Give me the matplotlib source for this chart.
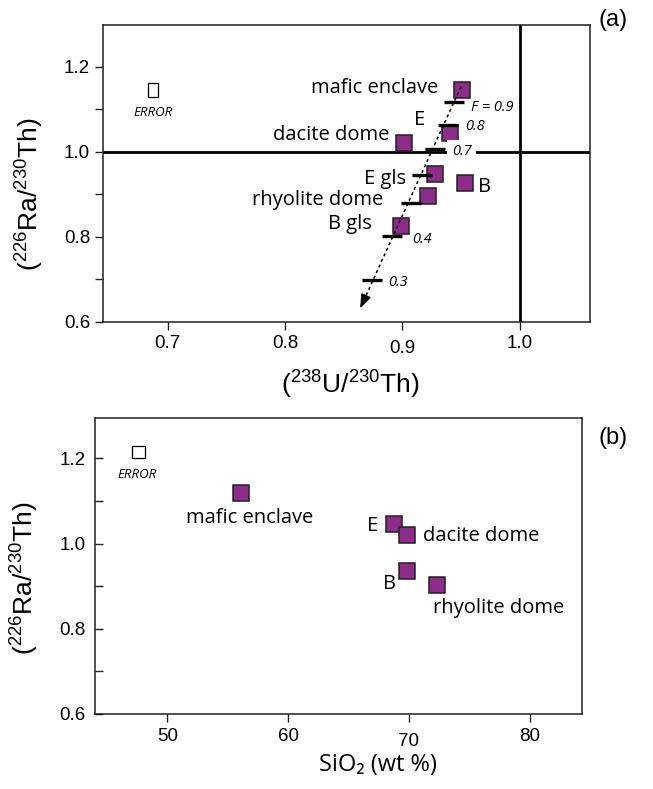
import matplotlib.pyplot as plt
from matplotlib import font_manager
from matplotlib.patches import Rectangle
from matplotlib.transforms import ScaledTranslation

# (a) (238U/230Th) vs (226Ra/230Th)
names_a = ['mafic enclave', 'E', 'dacite dome', 'E gls', 'B', 'rhyolite dome', 'B gls']
u_th = [0.951, 0.941, 0.901, 0.928, 0.953, 0.922, 0.899]
ra_th_a = [1.145, 1.045, 1.020, 0.948, 0.927, 0.896, 0.825]

# melting trend with ticks at degree of melting F
f_vals = [0.9, 0.8, 0.7, 0.6, 0.5, 0.4, 0.3]
f_u_th = [0.944, 0.939, 0.928, 0.917, 0.907, 0.891, 0.874]
f_ra_th = [1.118, 1.063, 1.006, 0.945, 0.880, 0.802, 0.698]
f_shown = [0.9, 0.8, 0.7, 0.4, 0.3]
trend_u_th = [0.950, 0.864]
trend_ra_th = [1.153, 0.631]

# (b) SiO2 vs (226Ra/230Th)
names_b = ['mafic enclave', 'E', 'dacite dome', 'B', 'rhyolite dome']
sio2 = [56.1, 68.8, 69.8, 69.8, 72.3]
ra_th_b = [1.118, 1.045, 1.020, 0.936, 0.903]

# analytical error boxes: centre and half widths
err_u_th, err_ra_a, err_du, err_dra_a = 0.687, 1.145, 0.0043, 0.0155
err_sio2, err_ra_b, err_dsi, err_dra_b = 47.6, 1.214, 0.5, 0.014

xticks_a = [0.7, 0.8, 0.9, 1.0]
xticks_b = [50, 60, 70, 80]
yticks = [0.6, 0.8, 1.0, 1.2]
yticks_minor = [0.7, 0.9, 1.1]

installed = {f.name for f in font_manager.fontManager.ttflist}
narrow = 'Liberation Sans Narrow' in installed
axis_font = 'Liberation Sans Narrow' if narrow else 'Liberation Sans'
ylab_size = 23 if narrow else 19
xlab_size = 23 if narrow else 19
label_font = ['Open Sans', 'DejaVu Sans']

plt.rcParams['mathtext.fontset'] = 'custom'
plt.rcParams['mathtext.rm'] = axis_font
plt.rcParams['mathtext.it'] = axis_font
plt.rcParams['mathtext.bf'] = axis_font

purple = '#8e2c8c'
dark = '#231f20'

# label offsets in points: (dx, dy, ha)
offs_a = {'mafic enclave': (-17, 1.5, 'right'), 'E': (-22, 9, 'center'),
          'dacite dome': (-10, 6, 'right'), 'E gls': (-21, -3.5, 'right'),
          'B': (10, -3, 'left'), 'rhyolite dome': (-32, -3, 'right'),
          'B gls': (-21, 1.5, 'right')}
offs_b = {'mafic enclave': (6, -18, 'center'), 'E': (-15.5, -1, 'center'),
          'dacite dome': (12, -1, 'left'), 'B': (-12.5, -9.5, 'center'),
          'rhyolite dome': (-3, -17, 'left')}
offs_f = {0.9: (12, -4), 0.8: (12.5, -1.5), 0.7: (12, -2), 0.4: (14.5, -3), 0.3: (12, -2)}

fig = plt.figure(figsize=(6.53, 7.89), dpi=100)
ax1 = fig.add_axes([0.1582, 0.5923, 0.7453, 0.3760])
ax2 = fig.add_axes([0.1455, 0.0951, 0.7462, 0.3748])

# ---- panel (a) ----
ax1.axhline(1.0, color='k', lw=2, zorder=1)
ax1.axvline(1.0, color='k', lw=2, zorder=1)
ax1.plot(u_th, ra_th_a, ls='none', marker='s', ms=11.5, mfc=purple, mec=dark, mew=1.1, zorder=2)
ax1.plot(trend_u_th, trend_ra_th, color='k', lw=1.1, ls=(0, (2, 2)), zorder=3)
ax1.annotate('', xy=(trend_u_th[1], trend_ra_th[1]),
             xytext=(trend_u_th[1] + 0.0049, trend_ra_th[1] + 0.030),
             arrowprops=dict(arrowstyle='-|>,head_length=0.6,head_width=0.22', color='k',
                             lw=1.1, mutation_scale=14, shrinkA=0, shrinkB=0), zorder=3)
ax1.plot(f_u_th, f_ra_th, ls='none', marker='_', ms=15, mew=2.4, color='k', zorder=4)

for name, x, y in zip(names_a, u_th, ra_th_a):
    dx, dy, ha = offs_a[name]
    ax1.annotate(name, (x, y), xytext=(dx, dy), textcoords='offset points',
                 ha=ha, va='center', fontsize=14.5, family=label_font)

for f, x, y in zip(f_vals, f_u_th, f_ra_th):
    if f not in f_shown:
        continue
    dx, dy = offs_f[f]
    txt = 'F = %.1f' % f if f == 0.9 else '%.1f' % f
    # the 0.7 label breaks the horizontal equilibrium line
    box = dict(fc='white', ec='none', pad=3.5) if f == 0.7 else None
    ax1.annotate(txt, (x, y), xytext=(dx, dy), textcoords='offset points',
                 ha='left', va='center', fontsize=10.5, style='italic',
                 family=label_font, bbox=box, zorder=5)

ax1.add_patch(Rectangle((err_u_th - err_du, err_ra_a - err_dra_a), 2 * err_du, 2 * err_dra_a,
                        fill=False, ec='k', lw=0.9))
ax1.annotate('ERROR', (err_u_th, err_ra_a), xytext=(0.7, -16.5), textcoords='offset points',
             ha='center', va='center', fontsize=9.5, style='italic', family=label_font)

ax1.set_xlim(0.645, 1.06)
ax1.set_ylim(0.6, 1.298)
ax1.set_xticks(xticks_a)
ax1.set_xticklabels(['%.1f' % v for v in xticks_a])
ax1.set_yticks(yticks)
ax1.set_yticklabels(['%.1f' % v for v in yticks])
ax1.set_yticks(yticks_minor, minor=True)
ax1.tick_params(which='both', direction='out', length=5.5, width=1.0, color=dark,
                labelsize=13.5, labelfontfamily='Liberation Sans', pad=4)

ax1.set_xlabel(r'($^{238}$U/$^{230}$Th)', fontsize=xlab_size, family=axis_font, va='center')
ax1.xaxis.set_label_coords(0.507, -0.213)
ax1.set_ylabel(r'($^{226}$Ra/$^{230}$Th)', fontsize=ylab_size, family=axis_font, va='center')
ax1.yaxis.set_label_coords(-0.151, 0.43)

# ---- panel (b) ----
ax2.plot(sio2, ra_th_b, ls='none', marker='s', ms=11.5, mfc=purple, mec=dark, mew=1.1, zorder=2)
for name, x, y in zip(names_b, sio2, ra_th_b):
    dx, dy, ha = offs_b[name]
    ax2.annotate(name, (x, y), xytext=(dx, dy), textcoords='offset points',
                 ha=ha, va='center', fontsize=14.5, family=label_font)

ax2.add_patch(Rectangle((err_sio2 - err_dsi, err_ra_b - err_dra_b), 2 * err_dsi, 2 * err_dra_b,
                        fill=False, ec='k', lw=0.9))
ax2.annotate('ERROR', (err_sio2, err_ra_b), xytext=(-0.9, -16), textcoords='offset points',
             ha='center', va='center', fontsize=9.5, style='italic', family=label_font)

ax2.set_xlim(44, 84.35)
ax2.set_ylim(0.6, 1.294)
ax2.set_xticks(xticks_b)
ax2.set_xticklabels([str(v) for v in xticks_b])
ax2.set_yticks(yticks)
ax2.set_yticklabels(['%.1f' % v for v in yticks])
ax2.set_yticks(yticks_minor, minor=True)
ax2.tick_params(axis='x', direction='out', length=6, width=1.0, color=dark,
                labelsize=13.5, labelfontfamily='Liberation Sans', pad=4)
ax2.tick_params(axis='y', which='both', direction='in', length=5.5, width=1.0, color=dark,
                labelsize=13.5, labelfontfamily='Liberation Sans', pad=7)

ax2.set_xlabel('SiO₂ (wt %)', fontsize=17, family=label_font, va='center')
ax2.xaxis.set_label_coords(0.581, -0.172)
ax2.set_ylabel(r'($^{226}$Ra/$^{230}$Th)', fontsize=ylab_size, family=axis_font, va='center')
ax2.yaxis.set_label_coords(-0.144, 0.46)

for ax in (ax1, ax2):
    for sp in ax.spines.values():
        sp.set_linewidth(1.1)
        sp.set_color(dark)

# a couple of tick labels sit a little lower
for ax, which in ((ax1, '0.9'), (ax2, '70')):
    for lbl in ax.get_xticklabels():
        if lbl.get_text() == which:
            lbl.set_transform(lbl.get_transform() + ScaledTranslation(0, -5 / 100, fig.dpi_scale_trans))

fig.text(613 / 653, 1 - 20 / 789, '(a)', ha='center', va='center', fontsize=17, family='Liberation Sans')
fig.text(613 / 653, 1 - 438 / 789, '(b)', ha='center', va='center', fontsize=17, family='Liberation Sans')

fig.savefig('out.png', dpi=100)
